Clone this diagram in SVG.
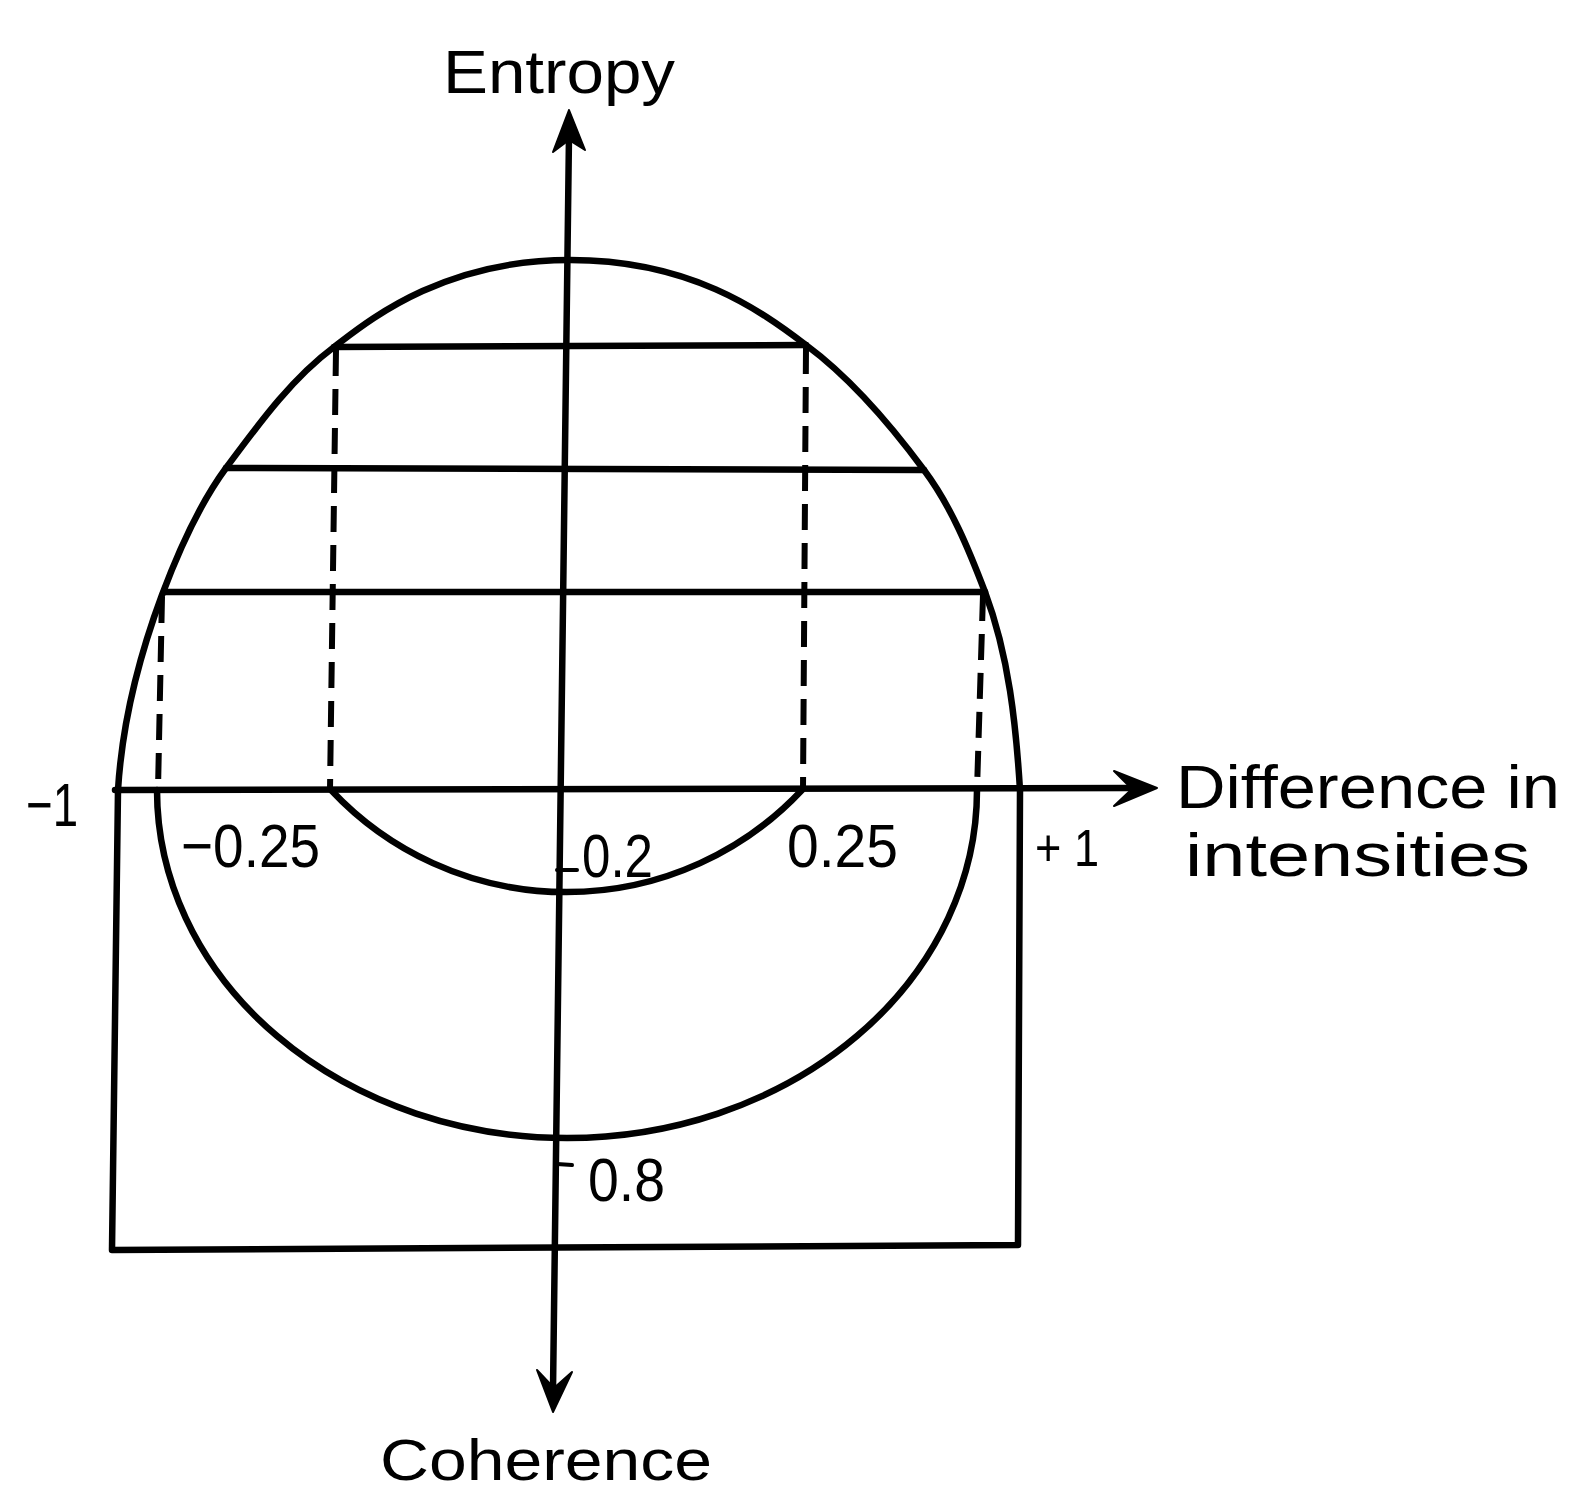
<svg xmlns="http://www.w3.org/2000/svg" width="1573" height="1491" viewBox="0 0 1573 1491">
<style>
.ln{fill:none;stroke:#000;stroke-width:6.5;stroke-linecap:round;stroke-linejoin:round}
.ds{fill:none;stroke:#000;stroke-width:6;stroke-dasharray:26 13}
.ah{fill:#000;stroke:#000;stroke-width:2;stroke-linejoin:round}
.tx{font-family:"Liberation Sans","DejaVu Sans",sans-serif;font-size:62px;fill:#000}
</style>
<rect width="1573" height="1491" fill="#fff"/>
<g id="outline">
<path class="ln" d="M118,790 C122,725 137,662 162,595 C178.5,551 198,506 226,468 C258,425 291,379 334,347 C366,323 440,260 570,260 C690,260 760,310 806,345 C852,379 890,424 924,470 C951,506 969,550 985,592 C1009,656 1016,725 1020,790"/>
<path class="ln" d="M118,790 L112,1250 L1018,1245 L1020,790"/>
</g>
<g id="chords">
<line class="ln" x1="334" y1="347" x2="806" y2="345"/>
<line class="ln" x1="226" y1="468" x2="924" y2="470"/>
<line class="ln" x1="164" y1="592" x2="985" y2="592"/>
</g>
<g id="dashed">
<line class="ds" x1="162" y1="597" x2="158" y2="790"/>
<line class="ds" x1="336" y1="350" x2="330" y2="790"/>
<line class="ds" x1="806" y1="348" x2="803" y2="790"/>
<line class="ds" x1="983" y1="595" x2="977" y2="790"/>
</g>
<g id="lower-curves">
<path class="ln" d="M157,790 A410,348 0 0 0 977,790"/>
<path class="ln" d="M331,790 A322.6,322.6 0 0 0 802,790"/>
</g>
<g id="axes">
<line class="ln" x1="115" y1="790" x2="1130" y2="788"/>
<polygon class="ah" points="1157,788 1114,771 1132,789 1114,806"/>
<line class="ln" x1="569" y1="135" x2="553" y2="1390"/>
<polygon class="ah" points="569,110 553,152 569,140 585,150"/>
<polygon class="ah" points="553,1412 537,1370 554,1388 572,1372"/>
<line class="ln" x1="557" y1="870" x2="577" y2="870" style="stroke-width:4"/>
<line class="ln" x1="557" y1="1164" x2="572" y2="1165" style="stroke-width:4"/>
</g>
<g id="labels">
<text class="tx" x="443" y="93" textLength="232" lengthAdjust="spacingAndGlyphs">Entropy</text>
<text class="tx" x="26" y="826" textLength="52" lengthAdjust="spacingAndGlyphs">−1</text>
<text class="tx" x="181" y="867" textLength="139" lengthAdjust="spacingAndGlyphs">−0.25</text>
<text class="tx" x="582" y="877" textLength="71" lengthAdjust="spacingAndGlyphs">0.2</text>
<text class="tx" x="787" y="867" textLength="111" lengthAdjust="spacingAndGlyphs">0.25</text>
<text class="tx" x="1035" y="866" textLength="64" lengthAdjust="spacingAndGlyphs" style="font-size:52px">+ 1</text>
<text class="tx" x="1176" y="808" textLength="384" lengthAdjust="spacingAndGlyphs">Difference in</text>
<text class="tx" x="1185" y="876" textLength="345" lengthAdjust="spacingAndGlyphs">intensities</text>
<text class="tx" x="588" y="1201" textLength="77" lengthAdjust="spacingAndGlyphs">0.8</text>
<text class="tx" x="380" y="1480" textLength="332" lengthAdjust="spacingAndGlyphs" style="font-size:58px">Coherence</text>
</g>
</svg>
